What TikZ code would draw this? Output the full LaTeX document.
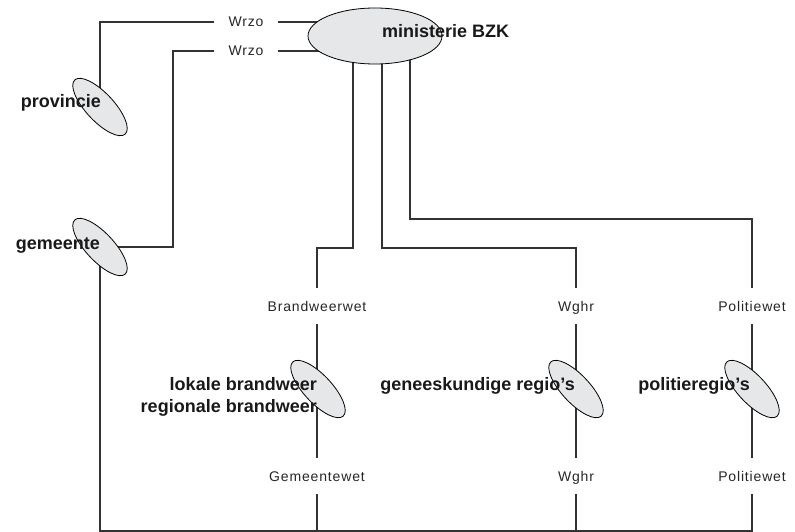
\documentclass[tikz,border=0pt]{standalone}
\usepackage{fontspec}
\setmainfont{Liberation Sans}
\newfontfamily\labfont[LetterSpace=6]{Liberation Sans}
\usetikzlibrary{shapes.geometric,backgrounds}
\definecolor{ellfill}{HTML}{E6E7E8}
\definecolor{linec}{HTML}{333333}
\begin{document}
\begin{tikzpicture}[x=1pt,y=-1pt,
  org/.style={ellipse,draw=black,line width=0.8pt,fill=ellfill,minimum width=74pt,minimum height=28pt,inner sep=0pt,rotate=-47},
  bzkell/.style={ellipse,draw=black,line width=0.8pt,fill=ellfill,minimum width=134pt,minimum height=56pt,inner sep=0pt},
  wet/.style={font=\labfont\fontsize{14}{16}\selectfont,text=black!85,inner xsep=14pt,inner ysep=13pt,text height=10pt,text depth=0pt},
  orglabel/.style={font=\bfseries\fontsize{18}{22}\selectfont,text=black!90,inner sep=0pt},
  conn/.style={line width=1.2pt,draw=linec}]
\useasboundingbox (0,0) rectangle (795,532);

% organisations
\node[bzkell] (bzk) at (375,36) {};
\node[org] (prov) at (100,107) {};
\node[org] (gem) at (100,247) {};
\node[org] (brw) at (318,389) {};
\node[org] (ggd) at (576,389) {};
\node[org] (pol) at (752,389) {};

% organisation names
\node[orglabel,anchor=base west] (tbzk) at (382,37.5) {ministerie BZK};
\node[orglabel,anchor=base east] (tprov) at (101,107.5) {provincie};
\node[orglabel,anchor=base east] (tgem) at (100,249) {gemeente};
\node[orglabel,anchor=base east] (tbrw1) at (317,390) {lokale brandweer};
\node[orglabel,anchor=base east] (tbrw2) at (317,412) {regionale brandweer};
\node[orglabel,anchor=base east] (tggd) at (575,390) {geneeskundige regio’s};
\node[orglabel,anchor=base east] (tpol) at (750,390) {politieregio’s};

% law labels
\node[wet] (wrzo1) at (246,22) {Wrzo};
\node[wet] (wrzo2) at (246,51) {Wrzo};
\node[wet] (bw) at (317,306) {Brandweerwet};
\node[wet] (wghr1) at (576,306) {Wghr};
\node[wet] (pw1) at (752,306) {Politiewet};
\node[wet] (gw) at (317,476) {Gemeentewet};
\node[wet] (wghr2) at (576,476) {Wghr};
\node[wet] (pw2) at (752,476) {Politiewet};

% helper coordinates
\coordinate (g1) at (173,247);
\coordinate (k1) at (353,248);
\coordinate (k2) at (382,248);
\coordinate (k3) at (410,219);
\coordinate (bot) at (0,531);

\begin{scope}[on background layer]
  \draw[conn] (wrzo1.east) -- (wrzo1.east -| bzk.center);
  \draw[conn] (wrzo1.west) -| (prov.center);
  \draw[conn] (wrzo2.east) -- (wrzo2.east -| bzk.center);
  \draw[conn] (wrzo2.west) -| (g1) -- (gem.center);
  \draw[conn] (bzk.center -| k1) -- (k1) -| (bw.north);
  \draw[conn] (bzk.center -| k2) -- (k2) -| (wghr1.north);
  \draw[conn] (bzk.center -| k3) -- (k3) -| (pw1.north);
  \draw[conn] (bw.south) -- (bw.south |- brw.center);
  \draw[conn] (wghr1.south) -- (ggd.center -| wghr1.south);
  \draw[conn] (pw1.south) -- (pol.center -| pw1.south);
  \draw[conn] (bw.south |- brw.center) -- (gw.north);
  \draw[conn] (ggd.center -| wghr1.south) -- (wghr2.north);
  \draw[conn] (pol.center -| pw1.south) -- (pw2.north);
  \draw[conn] (gem.center) |- (pw2.south |- bot) -- (pw2.south);
  \draw[conn] (gw.south) -- (gw.south |- bot);
  \draw[conn] (wghr2.south) -- (wghr2.south |- bot);
\end{scope}
\end{tikzpicture}
\end{document}
